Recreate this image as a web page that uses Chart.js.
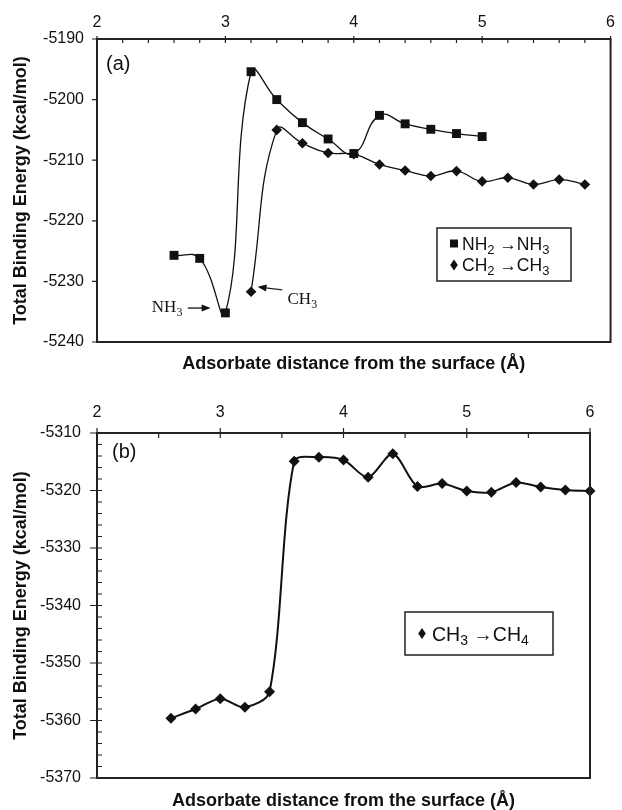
<!DOCTYPE html>
<html lang="en">
<head>
<meta charset="UTF-8">
<title>Total binding energy vs adsorbate distance</title>
<script src="https://cdn.jsdelivr.net/npm/chart.js"></script>
<style>
    body { margin: 0; background: #fff; }
    #wrap { position: relative; width: 622px; height: 810px; }
    canvas { position: absolute; left: 0; }
</style>
</head>
<body>
<div id="wrap">
    <canvas id="chartA" width="622" height="373" style="top:0"></canvas>
    <canvas id="chartB" width="622" height="408" style="top:402px"></canvas>
</div>

<script>
    // (a) NH2 -> NH3 and CH2 -> CH3
    const nhX = [2.6, 2.8, 3.0, 3.2, 3.4, 3.6, 3.8, 4.0, 4.2, 4.4, 4.6, 4.8, 5.0];
    const nhY = [-5225.7, -5226.2, -5235.2, -5195.4, -5200.0, -5203.8, -5206.5, -5208.9, -5202.6, -5204.0, -5204.9, -5205.6, -5206.1];
    const chX = [3.2, 3.4, 3.6, 3.8, 4.0, 4.2, 4.4, 4.6, 4.8, 5.0, 5.2, 5.4, 5.6, 5.8];
    const chY = [-5231.7, -5205.0, -5207.2, -5208.8, -5209.0, -5210.7, -5211.7, -5212.6, -5211.8, -5213.5, -5212.9, -5214.0, -5213.2, -5214.0];

    // (b) CH3 -> CH4
    const ch4X = [2.6, 2.8, 3.0, 3.2, 3.4, 3.6, 3.8, 4.0, 4.2, 4.4, 4.6, 4.8, 5.0, 5.2, 5.4, 5.6, 5.8, 6.0];
    const ch4Y = [-5359.6, -5358.0, -5356.2, -5357.7, -5355.0, -5314.9, -5314.2, -5314.7, -5317.7, -5313.6, -5319.3, -5318.8, -5320.1, -5320.3, -5318.6, -5319.4, -5319.9, -5320.1];

    const seriesNames = ['NH₂ →NH₃', 'CH₂ →CH₃', 'CH₃ →CH₄'];
    const xTitle = 'Adsorbate distance from the surface (Å)';
    const yTitle = 'Total Binding Energy (kcal/mol)';

    const INK = '#111';
    const SANS = '"Liberation Sans", Arial, sans-serif';
    const SERIF = '"Liberation Serif", "Times New Roman", serif';
    Chart.defaults.font.family = SANS;
    Chart.defaults.color = INK;

    function toPoints(xs, ys) {
        return xs.map((x, i) => ({ x: x, y: ys[i] }));
    }

    // text with unicode subscript digits drawn smaller and lowered
    function drawRich(ctx, text, x, baseY, size, family) {
        let cx = x;
        for (const ch of text) {
            const code = ch.charCodeAt(0);
            const sub = code >= 0x2080 && code <= 0x2089;
            const s = sub ? String(code - 0x2080) : ch;
            ctx.font = (sub ? Math.round(size * 0.72) : size) + 'px ' + family;
            ctx.fillText(s, cx, sub ? baseY + size * 0.22 : baseY);
            cx += ctx.measureText(s).width;
        }
        return cx;
    }

    function drawMarker(ctx, style, x, y) {
        ctx.beginPath();
        if (style === 'rect') {
            ctx.rect(x - 4, y - 4, 8, 8);
        } else {
            ctx.moveTo(x, y - 5.5);
            ctx.lineTo(x + 3.8, y);
            ctx.lineTo(x, y + 5.5);
            ctx.lineTo(x - 3.8, y);
            ctx.closePath();
        }
        ctx.fill();
    }

    function drawArrow(ctx, x1, y1, x2, y2) {
        const ang = Math.atan2(y2 - y1, x2 - x1);
        ctx.beginPath();
        ctx.moveTo(x1, y1);
        ctx.lineTo(x2 - 6 * Math.cos(ang), y2 - 6 * Math.sin(ang));
        ctx.stroke();
        ctx.beginPath();
        ctx.moveTo(x2, y2);
        ctx.lineTo(x2 - 9 * Math.cos(ang) + 3.5 * Math.sin(ang), y2 - 9 * Math.sin(ang) - 3.5 * Math.cos(ang));
        ctx.lineTo(x2 - 9 * Math.cos(ang) - 3.5 * Math.sin(ang), y2 - 9 * Math.sin(ang) + 3.5 * Math.cos(ang));
        ctx.closePath();
        ctx.fill();
    }

    // frame, tick marks, panel letter, boxed legend, arrows with labels
    const decorations = {
        id: 'decorations',
        afterDraw(chart, args, opts) {
            const { ctx, chartArea: a } = chart;
            const xs = chart.scales.x, ys = chart.scales.y;
            ctx.save();
            ctx.strokeStyle = '#222';
            ctx.fillStyle = INK;

            ctx.lineWidth = 1.2;
            ctx.beginPath();
            xs.ticks.forEach(t => {
                const px = xs.getPixelForValue(t.value);
                const major = Math.abs(t.value - Math.round(t.value)) < 1e-6;
                ctx.moveTo(px, a.top - (major ? opts.xOut : 0));
                ctx.lineTo(px, a.top + opts.xIn);
            });
            ys.ticks.forEach(t => {
                const py = ys.getPixelForValue(t.value);
                const major = Math.abs(t.value % 10) < 1e-6;
                ctx.moveTo(a.left - (major ? opts.yOut : 0), py);
                ctx.lineTo(a.left + (major ? opts.yInMajor : opts.yIn), py);
            });
            ctx.stroke();

            ctx.lineWidth = 2;
            ctx.strokeRect(a.left, a.top, a.right - a.left, a.bottom - a.top);

            ctx.textBaseline = 'middle';
            ctx.font = '20px ' + SANS;
            ctx.fillText(opts.panel, a.left + opts.panelPos[0], a.top + opts.panelPos[1]);

            // legend box
            const L = opts.legend;
            const bx = a.left + L.box[0], by = a.top + L.box[1];
            ctx.lineWidth = 1.5;
            ctx.strokeRect(bx, by, L.box[2], L.box[3]);
            ctx.textBaseline = 'alphabetic';
            chart.data.datasets.forEach((ds, i) => {
                const rowY = by + L.rows[i];
                drawMarker(ctx, ds.pointStyle, bx + L.markerX, rowY);
                drawRich(ctx, ds.label, bx + L.textX, rowY + L.size * 0.36, L.size, SANS);
            });

            // annotations given in data units
            (opts.notes || []).forEach(n => {
                ctx.lineWidth = 1.4;
                drawArrow(ctx, xs.getPixelForValue(n.from[0]), ys.getPixelForValue(n.from[1]),
                    xs.getPixelForValue(n.to[0]), ys.getPixelForValue(n.to[1]));
                drawRich(ctx, n.text, xs.getPixelForValue(n.at[0]), ys.getPixelForValue(n.at[1]), 17, SERIF);
            });
            ctx.restore();
        }
    };

    function intLabel(v) {
        return Math.abs(v - Math.round(v)) < 1e-6 ? String(Math.round(v)) : '';
    }

    function tensLabel(v) {
        return Math.abs(v % 10) < 1e-6 ? String(v) : '';
    }

    function makeChart(id, datasets, s) {
        return new Chart(document.getElementById(id), {
            type: 'line',
            data: { datasets: datasets },
            plugins: [decorations],
            options: {
                responsive: false,
                animation: false,
                layout: { padding: { left: 0, right: s.padRight, top: 0, bottom: 0 } },
                plugins: {
                    legend: { display: false },
                    tooltip: { enabled: false },
                    decorations: s.deco
                },
                scales: {
                    x: {
                        type: 'linear', position: 'top', min: 2, max: 6,
                        ticks: { stepSize: s.xStep, autoSkip: false, maxRotation: 0, padding: s.xPad, color: INK, font: { size: 16 }, callback: intLabel },
                        grid: { display: false, drawTicks: false },
                        border: { display: false },
                        afterFit: sc => { sc.height = s.topH; }
                    },
                    x2: {
                        type: 'linear', position: 'bottom', min: 2, max: 6,
                        ticks: { display: false },
                        grid: { display: false, drawTicks: false },
                        border: { display: false },
                        title: { display: true, text: xTitle, color: INK, padding: 0, font: { size: 18, weight: 'bold', lineHeight: 1 } },
                        afterFit: sc => { sc.height = s.bottomH; }
                    },
                    y: {
                        type: 'linear', min: s.yMin, max: s.yMax,
                        ticks: { stepSize: s.yStep, autoSkip: false, padding: s.yPad, color: INK, font: { size: 16 }, callback: tensLabel },
                        grid: { display: false, drawTicks: false },
                        border: { display: false },
                        title: { display: true, text: yTitle, color: INK, padding: { top: 12, bottom: 0 }, font: { size: 18, weight: 'bold', lineHeight: 1 } },
                        afterFit: sc => { sc.width = 97; }
                    }
                }
            }
        });
    }

    makeChart('chartA', [
        {
            label: seriesNames[0], data: toPoints(nhX, nhY),
            borderColor: INK, borderWidth: 1.3, tension: 0.45, clip: false,
            pointStyle: 'rect', pointRadius: 6.3, pointBackgroundColor: INK, pointBorderColor: INK, pointBorderWidth: 0
        },
        {
            label: seriesNames[1], data: toPoints(chX, chY),
            borderColor: INK, borderWidth: 1.3, tension: 0.45, clip: false,
            pointStyle: 'rectRot', pointRadius: 5.3, pointBackgroundColor: INK, pointBorderColor: INK, pointBorderWidth: 0
        }
    ], {
        padRight: 1, topH: 39, bottomH: 31, xStep: 0.2, xPad: 7,
        yMin: -5240, yMax: -5190, yStep: 10, yPad: 13,
        deco: {
            xOut: 3, xIn: 4, yOut: 5, yIn: 0, yInMajor: 0,
            panel: '(a)', panelPos: [9, 25],
            legend: { box: [340, 189, 134, 53], rows: [15.5, 37], markerX: 17, textX: 25, size: 17.5 },
            notes: [
                { text: 'NH₃', at: [2.427, -5235.1], from: [2.707, -5234.4], to: [2.885, -5234.4] },
                { text: 'CH₃', at: [3.484, -5233.8], from: [3.443, -5231.4], to: [3.25, -5230.9] }
            ]
        }
    });

    makeChart('chartB', [
        {
            label: seriesNames[2], data: toPoints(ch4X, ch4Y),
            borderColor: INK, borderWidth: 2, tension: 0.3, clip: false,
            pointStyle: 'rectRot', pointRadius: 5.5, pointBackgroundColor: INK, pointBorderColor: INK, pointBorderWidth: 0
        }
    ], {
        padRight: 32, topH: 31, bottomH: 32, xStep: 0.5, xPad: 11,
        yMin: -5370, yMax: -5310, yStep: 2, yPad: 16,
        deco: {
            xOut: 5, xIn: 5, yOut: 7, yIn: 5, yInMajor: 5,
            panel: '(b)', panelPos: [15, 19],
            legend: { box: [308, 179, 148, 43], rows: [21.5], markerX: 17, textX: 27, size: 19.5 }
        }
    });
</script>
</body>
</html>
